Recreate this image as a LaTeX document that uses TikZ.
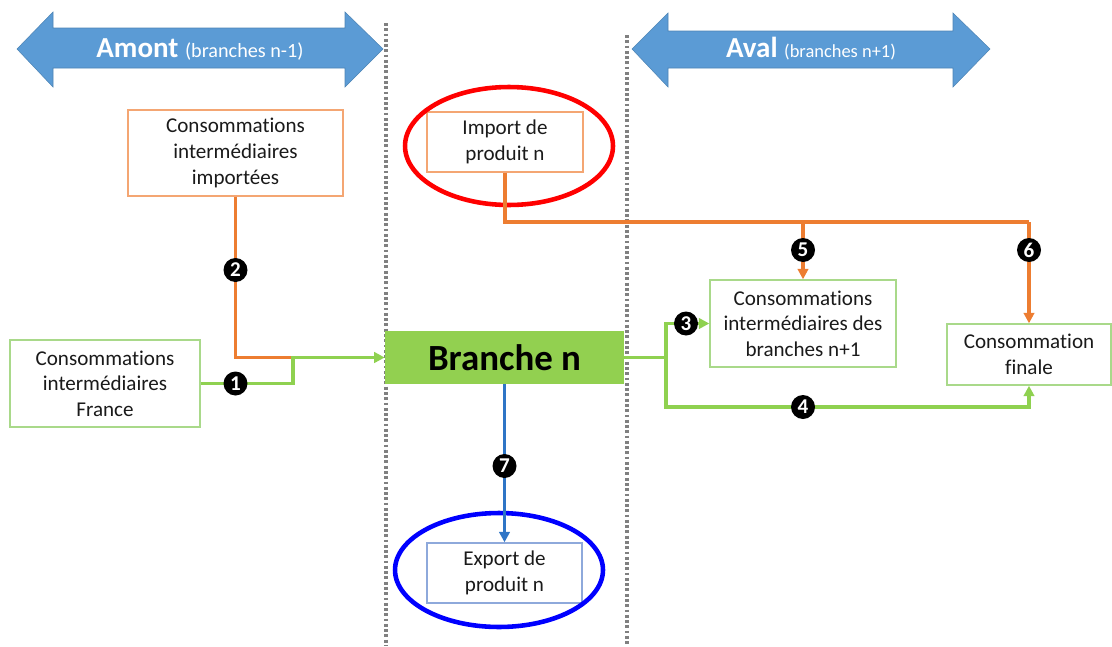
\documentclass[tikz,border=0pt]{standalone}
\usepackage{fontspec}
\setmainfont{Carlito}[RawFeature={-liga;-dlig;-calt}]
\usetikzlibrary{arrows.meta}
\newcommand\tiNL{t\kern0pt i}
\definecolor{arrblue}{HTML}{5B9BD5}
\definecolor{oline}{HTML}{ED7D31}
\definecolor{obord}{HTML}{F4A673}
\definecolor{gline}{HTML}{8FD150}
\definecolor{gbord}{HTML}{A9D98A}
\definecolor{gfill}{HTML}{92D050}
\definecolor{bline}{HTML}{2E75C6}
\definecolor{bbord}{HTML}{8EA9DB}
\definecolor{dotgray}{HTML}{808080}
\definecolor{txt}{HTML}{1A1A1A}
\begin{document}
\begin{tikzpicture}[x=0.02cm,y=-0.02cm,
  boxtext/.style={align=center,text=txt,font=\fontsize{12}{14.6}\selectfont,inner sep=0pt},
  obox/.style={boxtext,draw=obord,line width=0.8pt},
  gbox/.style={boxtext,draw=gbord,line width=0.8pt},
  bbox/.style={boxtext,draw=bbord,line width=0.8pt},
  tip/.style={-{Triangle[length=6pt,width=6pt]}},
  oconn/.style={draw=oline,line width=2pt},
  gconn/.style={draw=gline,line width=2pt},
  bconn/.style={draw=bline,line width=2pt},
  numc/.style={circle,fill=black,text=white,inner sep=0pt,minimum size=0.48cm,font=\fontsize{12}{12}\selectfont\bfseries},
  dotline/.style={draw=dotgray,line width=1.8pt,dash pattern=on 1.6pt off 1.4pt},
  bigarrow/.style={fill=arrblue,draw=arrblue!85!black,line width=0.3pt}
]
\useasboundingbox (0,0) rectangle (1112,646);

% big arrows
\path[bigarrow] (17,49) -- (53,12) -- (53,28) -- (345,28) -- (345,12) -- (383,49)
  -- (345,87) -- (345,68) -- (53,68) -- (53,87) -- cycle;
\node[text=white,inner sep=0pt] (amont) at (200,49)
  {\fontsize{16.5}{18}\selectfont\bfseries Amont \fontsize{11.5}{14}\selectfont\mdseries(branches n-1)};
\path[bigarrow] (632,49) -- (668,13) -- (668,31) -- (953,31) -- (953,13) -- (990,49)
  -- (953,87) -- (953,68) -- (668,68) -- (668,87) -- cycle;
\node[text=white,inner sep=0pt] (aval) at (811,49)
  {\fontsize{16.5}{18}\selectfont\bfseries Aval \fontsize{10.5}{13}\selectfont\mdseries(branches n+1)};

% dotted separators
\coordinate (d1t) at (386,23); \coordinate (d1b) at (386,646);
\coordinate (d2t) at (627,35); \coordinate (d2b) at (627,646);
\draw[dotline] (d1t) -- (d1b);
\draw[dotline] (d2t) -- (d2b);

% boxes
\node[obox,minimum width=4.30cm,minimum height=1.72cm] (imp) at (235.5,153)
  {Consomma\tiNL ons\\interm\'ediaires\\import\'ees};
\node[gbox,minimum width=3.80cm,minimum height=1.74cm,fill=white] (fr) at (105,383.5)
  {Consomma\tiNL ons\\interm\'ediaires\\France};
\node[obox,minimum width=3.12cm,minimum height=1.20cm] (impn) at (505,142)
  {Import de\\produit n};
\node[fill=gfill,minimum width=4.78cm,minimum height=1.06cm,inner sep=0pt,
  font=\fontsize{21}{24}\selectfont\bfseries] (br) at (504.5,357.5) {Branche n};
\node[gbox,minimum width=3.72cm,minimum height=1.74cm] (cib) at (803,323.5)
  {Consomma\tiNL ons\\interm\'ediaires des\\branches n+1};
\node[gbox,minimum width=3.28cm,minimum height=1.22cm] (fin) at (1029,354.5)
  {Consomma\tiNL on\\finale};
\node[bbox,minimum width=3.10cm,minimum height=1.20cm] (exp) at (504.5,573)
  {Export de\\produit n};

% highlight ellipses
\draw[red,line width=2.6pt] (509,146) ellipse [x radius=2.08cm, y radius=1.18cm];
\draw[blue,line width=2.6pt] (499,570) ellipse [x radius=2.08cm, y radius=1.14cm];

% junction coordinates
\coordinate (j1) at (293,357.5);
\coordinate (j2) at (1029,222);
\coordinate (j3) at (803,222);
\coordinate (j4) at (666,357.5);
\coordinate (j5) at (1029,407);

% left connectors
\draw[oconn] (imp.south) |- (j1);
\draw[gconn,tip] (fr.east) -| (j1) -- (br.west);
\node[numc] (n2) at (235.5,270) {2};
\node[numc] (n1) at (235.5,383.5) {1};

% import connectors
\draw[oconn] (impn.south) |- (j2);
\draw[oconn,tip] (j3) -- (cib.north);
\draw[oconn,tip] (j2) -- (fin.north);
\node[numc] (n5) at (803,250) {5};
\node[numc] (n6) at (1029,250) {6};

% right connectors
\draw[gconn] (br.east) -- (j4);
\draw[gconn,tip] (j4) |- (cib.west);
\draw[gconn,tip] (j4) |- (j5) -- (fin.south);
\node[numc] (n3) at (686,323.5) {3};
\node[numc] (n4) at (803,407) {4};

% export connector
\draw[bconn,tip] (br.south) -- (exp.north);
\node[numc] (n7) at (504.5,466) {7};
\end{tikzpicture}
\end{document}
